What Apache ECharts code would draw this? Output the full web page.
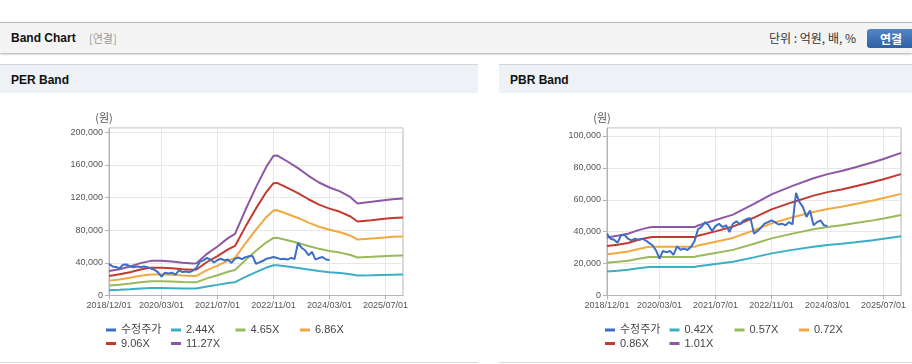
<!DOCTYPE html>
<html>
<head>
<meta charset="utf-8">
<script src="https://cdn.jsdelivr.net/npm/echarts@6/dist/echarts.min.js"></script>
<style>
  html, body { margin:0; padding:0; width:912px; height:364px; background:#fff; overflow:hidden;
    font-family:'Liberation Sans','Noto Sans CJK KR',sans-serif; }
  .abs { position:absolute; white-space:nowrap; }
  #hdr { position:absolute; left:0; top:22px; width:912px; height:30px; background:#f4f4f4;
    border-top:1px solid #b8b8b8; box-shadow:0 1px 2px rgba(0,0,0,0.35); }
  .ph { position:absolute; top:64px; height:28px; background:#eef2f7; border-top:1px solid #d6d6d6; }
  .pb { position:absolute; top:362px; height:0; border-top:1px solid #dcdcdc; }
  #btn { position:absolute; left:867px; top:29px; width:52px; height:19px; border-radius:3px;
    background:linear-gradient(#5386c6,#2e61a5); color:#fff; font-weight:bold; font-size:12px;
    line-height:19px; text-indent:13px; font-family:'Noto Sans CJK KR',sans-serif; }
  #chart { position:absolute; left:0; top:0; width:912px; height:364px; }
</style>
</head>
<body>
<div id="hdr"></div>
<div class="abs" style="left:11px;top:31px;font-size:12px;font-weight:bold;color:#111;line-height:14px;">Band Chart</div>
<div class="abs" style="left:89px;top:31px;font-size:11px;color:#999;line-height:14px;font-family:'Noto Sans CJK KR',sans-serif;">[연결]</div>
<div class="abs" style="left:769px;top:31px;font-size:12px;color:#333;line-height:14px;font-family:'Noto Sans CJK KR',sans-serif;">단위 : 억원, 배, %</div>
<div id="btn">연결</div>
<div class="ph" style="left:0;width:478px;"></div>
<div class="ph" style="left:499px;width:413px;"></div>
<div class="abs" style="left:11px;top:73px;font-size:12px;font-weight:bold;color:#111;line-height:14px;">PER Band</div>
<div class="abs" style="left:510px;top:73px;font-size:12px;font-weight:bold;color:#111;line-height:14px;">PBR Band</div>
<div class="pb" style="left:0;width:478px;"></div>
<div class="pb" style="left:499px;width:413px;"></div>
<div id="chart"></div>
<script>
// ---- tick labels shown on the x axis
const X_TICKS = ['2018/12/01','2020/03/01','2021/07/01','2022/11/01','2024/03/01','2025/07/01'];

// ---- monthly categories 2018/12/01 .. 2025/12/01
const CATS = [];
for (let y = 2018, m = 12; y < 2025 || (y === 2025 && m <= 12); ) {
  CATS.push(y + '/' + String(m).padStart(2, '0') + '/01');
  m++; if (m > 12) { m = 1; y++; }
}

// ---- adjusted price (수정주가), monthly from 2018/12/01 to 2024/03/01
const PRICE = [38700,35600,35000,33000,37700,38000,35600,34600,35600,35000,
  35600,34600,33000,31500,28300,23100,28000,27000,28000,25500,
  30800,28700,29400,28500,30500,34000,41500,43000,46000,44000,
  40400,43500,45000,42900,44000,39800,45000,46500,44500,47000,
  48100,48500,38700,40500,42500,45000,46000,47100,46000,44500,
  45000,44000,46000,44600,64400,58500,55400,49200,53300,44000,
  46000,47100,44000,43500];

// ---- PER band
const PER_DATES = ['2018/12/01','2019/03/01','2019/06/01','2019/09/01','2019/12/01','2020/03/01',
  '2020/06/01','2020/09/01','2020/12/01','2021/01/01','2021/04/01','2021/07/01','2021/10/01',
  '2021/12/01','2022/03/01','2022/06/01','2022/09/01','2022/11/01','2022/12/01','2023/03/01',
  '2023/06/01','2023/09/01','2023/12/01','2024/03/01','2024/06/01','2024/09/01','2024/11/01',
  '2025/03/01','2025/06/01','2025/09/01','2025/12/01'];
const PER_NAMES = ['2.44X','4.65X','6.86X','9.06X','11.27X'];
const PER_244 = [6500,7000,7700,8600,9200,9200,9000,8700,8500,8600,11000,13000,15200,16300,22700,28700,34200,37000,37100,35500,33700,31700,29900,28600,27600,26000,24400,24800,25200,25500,25700];
const PER_465 = [12300,13300,14600,16300,17500,17500,17200,16500,16200,16300,21000,24700,29000,31200,43300,54700,65100,70500,70700,67700,64300,60500,57100,54500,52500,49600,46500,47300,48000,48600,49000];
const PER_686 = [18200,19600,21600,24100,25800,25800,25300,24400,23900,24100,31000,36500,42700,46000,63900,80700,96100,104100,104300,99800,94900,89200,84200,80500,77500,73200,68500,69800,70800,71800,72200];
const PER_906 = [24000,25900,28500,31800,34100,34100,33400,32200,31500,31800,41000,48200,56400,60700,84300,106600,126900,137400,137800,131800,125300,117800,111200,106300,102400,96700,90500,92100,93500,94800,95400];
const PER_1127 = [29900,32200,35500,39600,42400,42400,41600,40000,39200,39600,51000,60000,70200,75500,104900,132600,157900,171000,171400,164000,155900,146500,138300,132200,127400,120300,112600,114600,116300,117900,118700];

// ---- PBR band
const PBR_DATES = ['2018/12/01','2019/03/01','2019/06/01','2019/09/01','2019/12/01','2020/01/01',
  '2021/01/01','2021/02/01','2021/07/01','2021/12/01','2022/06/01','2022/11/01','2023/05/01',
  '2023/11/01','2024/03/01','2024/07/01','2024/11/01','2025/04/01','2025/07/01','2025/12/01'];
const PBR_NAMES = ['0.42X','0.57X','0.72X','0.86X','1.01X'];
const PBR_042 = [15100,15500,16100,17100,17800,17900,17900,18300,19700,21100,23900,26400,28600,30600,31600,32400,33400,34700,35600,37200];
const PBR_057 = [20500,21100,21800,23100,24100,24200,24200,24800,26700,28600,32400,35800,38800,41500,42900,44000,45400,47100,48300,50400];
const PBR_072 = [25900,26600,27600,29200,30500,30600,30600,31300,33700,36100,40900,45200,49000,52400,54200,55600,57300,59500,61100,63700];
const PBR_086 = [31000,31800,32900,34900,36400,36600,36600,37400,40200,43200,48800,54000,58500,62600,64800,66400,68500,71100,72900,76100];
const PBR_101 = [36400,37400,38700,41000,42700,42900,42900,43900,47300,50700,57400,63400,68700,73500,76100,78000,80400,83500,85600,89400];

const PRICE_NAME = '수정주가';
const COLORS = { price:'#3b6ec4', c1:'#3aaec5', c2:'#98ba5a', c3:'#f2a840', c4:'#c3392f', c5:'#8d58a3' };
const FONT = "'Liberation Sans','Noto Sans CJK KR',sans-serif";

const zip = (dates, vals) => dates.map((d, i) => [d, vals[i]]);
const tickShow = (idx, val) => X_TICKS.indexOf(val) >= 0;

function xAxis(gi) {
  return {
    type:'category', gridIndex:gi, data:CATS, boundaryGap:false,
    axisLine:{ lineStyle:{ color:'#b4b4b4' } },
    axisTick:{ show:true, interval:tickShow, length:4, lineStyle:{ color:'#b4b4b4' } },
    axisLabel:{ interval:tickShow, color:'#555', fontSize:9, fontFamily:FONT, margin:6 },
    splitLine:{ show:true, interval:tickShow, lineStyle:{ color:'#e8e8e8' } }
  };
}
function yAxis(gi, max, interval) {
  return {
    type:'value', gridIndex:gi, min:0, max:max, interval:interval,
    name:'(원)', nameLocation:'end', nameGap:5,
    nameTextStyle:{ color:'#555', fontSize:11, fontFamily:"'Noto Sans CJK KR',sans-serif", padding:[0,10,0,0] },
    axisLine:{ show:true, lineStyle:{ color:'#b4b4b4' } },
    axisTick:{ show:true, length:4, lineStyle:{ color:'#b4b4b4' } },
    axisLabel:{ color:'#555', fontSize:9, fontFamily:FONT, margin:6, showMaxLabel:false,
      formatter: v => v.toLocaleString('en-US') },
    splitLine:{ show:true, lineStyle:{ color:'#e8e8e8' } }
  };
}
function line(name, gi, data, color, z) {
  return { type:'line', name:name, xAxisIndex:gi, yAxisIndex:gi, data:data, showSymbol:false,
    symbol:'none', lineStyle:{ width:2, color:color }, itemStyle:{ color:color }, z:z || 2,
    animation:false, silent:true };
}
function leg(name, left, top) {
  return { data:[name], left:left, top:top, padding:0, itemGap:0, itemWidth:10, itemHeight:3,
    icon:'rect', selectedMode:false,
    textStyle:{ color:'#444', fontSize:11, fontFamily:FONT } };
}

const bandColors = [COLORS.c1, COLORS.c2, COLORS.c3, COLORS.c4, COLORS.c5];
const perVals = [PER_244, PER_465, PER_686, PER_906, PER_1127];
const pbrVals = [PBR_042, PBR_057, PBR_072, PBR_086, PBR_101];
const priceData = PRICE.map((v, i) => [CATS[i], v]);

const series = [];
series.push(line(PRICE_NAME, 0, priceData, COLORS.price, 3));
PER_NAMES.forEach((n, i) => series.push(line(n, 0, zip(PER_DATES, perVals[i]), bandColors[i])));
series.push(line(PRICE_NAME, 1, priceData, COLORS.price, 3));
PBR_NAMES.forEach((n, i) => series.push(line(n, 1, zip(PBR_DATES, pbrVals[i]), bandColors[i])));

const R1 = 324.5, R2 = 338;
const option = {
  backgroundColor:'transparent',
  animation:false,
  grid:[
    { left:109, top:128, width:294, height:167.5, show:true, borderColor:'#b4b4b4', borderWidth:1, backgroundColor:'transparent' },
    { left:607, top:128, width:294, height:167.5, show:true, borderColor:'#b4b4b4', borderWidth:1, backgroundColor:'transparent' }
  ],
  xAxis:[ xAxis(0), xAxis(1) ],
  yAxis:[ yAxis(0, 205000, 40000), yAxis(1, 105000, 20000) ],
  legend:[
    leg(PRICE_NAME, 106, R1), leg(PER_NAMES[0], 171, R1), leg(PER_NAMES[1], 235.5, R1), leg(PER_NAMES[2], 300, R1),
    leg(PER_NAMES[3], 106, R2), leg(PER_NAMES[4], 171, R2),
    leg(PRICE_NAME, 605, R1), leg(PBR_NAMES[0], 669.5, R1), leg(PBR_NAMES[1], 734.5, R1), leg(PBR_NAMES[2], 799, R1),
    leg(PBR_NAMES[3], 605, R2), leg(PBR_NAMES[4], 669.5, R2)
  ],
  series:series
};
const chart = echarts.init(document.getElementById('chart'), null, { renderer:'canvas' });
chart.setOption(option);
</script>
</body>
</html>
